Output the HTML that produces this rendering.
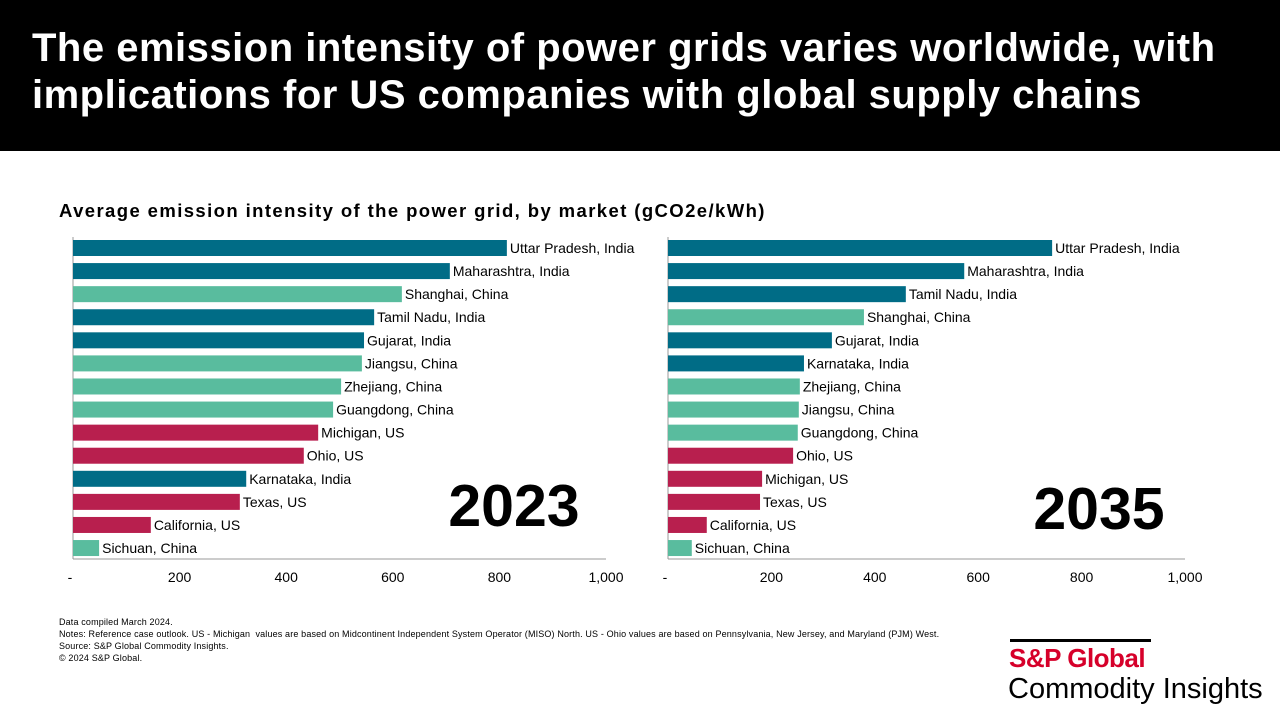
<!DOCTYPE html>
<html><head><meta charset="utf-8"><style>
body{margin:0;width:1280px;height:720px;background:#fff;font-family:"Liberation Sans",Arial,sans-serif;position:relative;overflow:hidden}
#hdr{position:absolute;left:0;top:0;width:1280px;height:151px;background:#000;color:#fff;font-weight:bold;font-size:40px;letter-spacing:0.5px;line-height:47px;box-sizing:border-box;padding:25px 0 0 32px;white-space:nowrap}
#sub{position:absolute;left:59px;top:200px;font-weight:bold;font-size:18.5px;letter-spacing:1.4px;color:#000;white-space:nowrap}
#notes{position:absolute;left:59px;top:616px;font-size:9px;letter-spacing:0.15px;line-height:12px;color:#000;white-space:nowrap}
#logo-line{position:absolute;left:1010px;top:639px;width:141px;height:3px;background:#000}
#logo1{position:absolute;left:1009px;top:643px;color:#d6002a;font-weight:bold;font-size:26px;letter-spacing:-0.5px}
#logo2{position:absolute;left:1008px;top:673px;color:#000;font-size:29px;font-weight:300}
svg{position:absolute;left:0;top:0}
</style></head><body>
<div id="hdr">The emission intensity of power grids varies worldwide, with<br>implications for US companies with global supply chains</div>
<div id="sub">Average emission intensity of the power grid, by market (gCO2e/kWh)</div>
<svg id="chart" width="1280" height="720"></svg>
<div id="notes">Data compiled March 2024.<br>Notes: Reference case outlook. US - Michigan &nbsp;values are based on Midcontinent Independent System Operator (MISO) North. US - Ohio values are based on Pennsylvania, New Jersey, and Maryland (PJM) West.<br>Source: S&amp;P Global Commodity Insights.<br>© 2024 S&amp;P Global.</div>
<div id="logo-line"></div>
<div id="logo1">S&amp;P Global</div>
<div id="logo2">Commodity Insights</div>
<script>
const cats2023=["Uttar Pradesh, India","Maharashtra, India","Shanghai, China","Tamil Nadu, India","Gujarat, India","Jiangsu, China","Zhejiang, China","Guangdong, China","Michigan, US","Ohio, US","Karnataka, India","Texas, US","California, US","Sichuan, China"];
const vals2023=[814,707,617,565,546,542,503,488,460,433,325,313,146,49];
const cats2035=["Uttar Pradesh, India","Maharashtra, India","Tamil Nadu, India","Shanghai, China","Gujarat, India","Karnataka, India","Zhejiang, China","Jiangsu, China","Guangdong, China","Ohio, US","Michigan, US","Texas, US","California, US","Sichuan, China"];
const vals2035=[743,573,460,379,317,263,255,253,251,242,182,178,75,46];
const ticks=[0,200,400,600,800,1000];
const tickLabels=["-","200","400","600","800","1,000"];
const svg=document.getElementById('chart');
const NS="http://www.w3.org/2000/svg";
function colorFor(c){if(c.endsWith("India"))return"#006c86";if(c.endsWith("China"))return"#59bc9e";return"#b81f4e";}
function mk(t,a){const e=document.createElementNS(NS,t);for(const k in a)e.setAttribute(k,a[k]);svg.appendChild(e);return e;}
function draw(x0,x1,cats,vals,year,yx,yy){
  const sx=v=>x0+(x1-x0)*v/1000;
  const y0=248,step=23.08,bh=16;
  const ax=mk('line',{x1:x0,y1:237,x2:x0,y2:559,stroke:'#999','stroke-width':1});
  
  const bx=mk('line',{x1:x0,y1:559,x2:x1,y2:559,stroke:'#999','stroke-width':1});
  
  cats.forEach((c,i)=>{
    const cy=y0+i*step;
    const r=mk('rect',{x:x0,y:cy-bh/2,width:sx(vals[i])-x0,height:bh,fill:colorFor(c)});
    
    
    const t=mk('text',{x:sx(vals[i])+3,y:cy+5,'font-size':14,fill:'#000'});t.textContent=c;
    
    
  });
  ticks.forEach((v,i)=>{
    const t=mk('text',{x:sx(v),y:582,'font-size':14,'text-anchor':'middle',fill:'#000'});t.textContent=tickLabels[i];
    if(i==0)t.setAttribute('x',sx(v)-3);
    
    
  });
  const yt=mk('text',{x:yx,y:yy,'font-size':59,'font-weight':'bold','text-anchor':'middle',fill:'#000'});yt.textContent=year;
  
  
}
draw(73,606,cats2023,vals2023,"2023",514,526);
draw(668,1185,cats2035,vals2035,"2035",1099,529);
</script>
</body></html>
